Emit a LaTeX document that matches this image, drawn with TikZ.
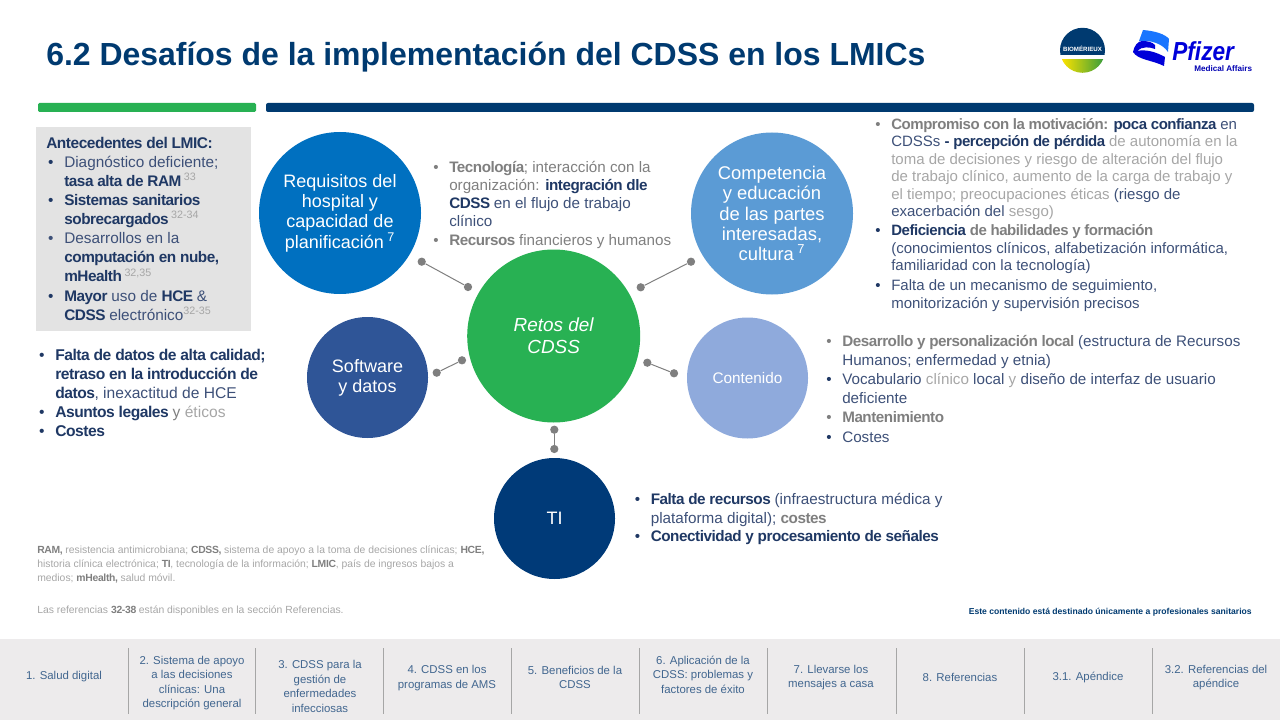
\documentclass[tikz,border=0pt]{standalone}
\usepackage{fontspec}
\setmainfont[BoldFeatures={LetterSpace=-3}]{Liberation Sans}
\newfontfamily\plainf{Liberation Sans}
\definecolor{navy}{HTML}{003A70}
\definecolor{txtd}{HTML}{1F3864}
\definecolor{txtm}{HTML}{3D5078}
\definecolor{gmid}{HTML}{7F7F7F}
\definecolor{glt}{HTML}{A6A6A6}
\definecolor{barc}{HTML}{EDEBEC}
\definecolor{boxc}{HTML}{E3E3E3}
\definecolor{green1}{HTML}{28B153}
\definecolor{nlab}{HTML}{41668F}
\definecolor{c1}{HTML}{0070C0}
\definecolor{c2}{HTML}{5B9BD5}
\definecolor{c3}{HTML}{2F5597}
\definecolor{c4}{HTML}{8FAADC}
\definecolor{c5}{HTML}{003A78}
\definecolor{by}{HTML}{FBE200}
\definecolor{bm}{HTML}{D5D41C}
\definecolor{bg}{HTML}{3C9E3A}
\newcommand\DB[1]{\textcolor{txtd}{\textbf{#1}}}
\newcommand\DR[1]{\textcolor{txtm}{#1}}
\newcommand\GB[1]{\textcolor{gmid}{\textbf{#1}}}
\newcommand\GR[1]{\textcolor{gmid}{#1}}
\newcommand\LG[1]{\textcolor{glt}{#1}}
\newcommand\blt[1]{\llap{\textcolor{#1}{•}\hspace{8pt}}}
\newcommand\sups[1]{\textcolor{glt}{\textsuperscript{#1}}}
\newcommand\fsz[2]{\fontsize{#1}{#2}\selectfont}
\tikzset{
 big/.style={circle,inner sep=0pt,minimum size=121.5pt,text=white,align=center,font=\fsz{13.5}{15.3}},
 small/.style={circle,inner sep=0pt,minimum size=90.75pt,text=white,align=center,font=\fsz{13.5}{15.2}},
 dot/.style={circle,fill=gmid,inner sep=0pt,minimum size=6.2pt},
 link/.style={draw=gmid,line width=0.75pt},
 lst/.style={anchor=north west,inner sep=0pt,align=left},
 tab/.style={anchor=center,inner sep=0pt,align=center,text=nlab,font=\fsz{8.55}{10.9}},
 sep/.style={draw=glt,line width=0.75pt},
 note/.style={anchor=north west,inner sep=0pt,align=left,text=glt,font=\fsz{7.78}{10.2}},
}
\begin{document}
\begin{tikzpicture}[x=0.75pt,y=-0.75pt]
\useasboundingbox (0,0) rectangle (1280,720);
% title
\node[anchor=base west,inner sep=0pt,text=navy,font=\plainf\bfseries\fsz{23.97}{27}] (title) at (46,65.5) {6.2 Desafíos de la implementación del CDSS en los LMICs};
% bars
\fill[green1,rounded corners=1pt] (38,103) rectangle (256,112);
\fill[navy,rounded corners=1.5pt] (266,103) rectangle (1254,112);
% bioMerieux logo
\begin{scope}
\clip (1082.5,50.3) circle (22.5);
\fill[navy] (1055,25) rectangle (1110,55);
\shade[left color=by,middle color=bm,right color=bg] (1062,60) rectangle (1103,75);
\end{scope}
\node[inner sep=0pt,text=white,font=\plainf\bfseries\fsz{4.6}{5}] (bio) at (1082.5,49) {BIOMÉRIEUX};
% Pfizer logo
\fill[blue!60!cyan!90!white] (1143,30) .. controls (1155,31) and (1165,34) .. (1169,39) -- (1168,52) .. controls (1162,43) and (1150,40) .. (1139,41) -- cycle;
\fill[blue!85!black] (1133,52) .. controls (1134,46) and (1138,41) .. (1142,41) .. controls (1148,41) and (1152,42) .. (1155,45) -- (1155,49) .. controls (1150,47) and (1142,46) .. (1137,51) .. controls (1146,49) and (1156,52) .. (1165,57) -- (1164,66) .. controls (1152,60) and (1138,60) .. (1133,52) -- cycle;
\node[anchor=base west,inner sep=0pt,text=blue!85!black,font=\plainf\bfseries\itshape\fsz{17}{20}] (pf) at (1172,61) {\scalebox{1}[1.15]{Pfizer}};
\node[anchor=base west,inner sep=0pt,text=blue!70!black,font=\plainf\bfseries\fsz{6.1}{7}] (ma) at (1194,71.5) {Medical Affairs};
% grey box
\fill[boxc] (36,127) rectangle (251,331);
\node[lst,font=\fsz{11.6}{14.3}] (ant) at (46,137) {\DB{Antecedentes del LMIC:}};
\node[lst,font=\fsz{11.5}{14.3}] (antl) at (64,156) {\blt{txtd}\DR{Diagnóstico deficiente;}\\
\DB{tasa alta de RAM}\sups{ 33}\\
\blt{txtd}\DB{Sistemas sanitarios}\\
\DB{sobrecargados}\sups{ 32-34}\\
\blt{txtm}\DR{Desarrollos en la}\\
\DB{computación en nube,}\\
\DB{mHealth}\sups{ 32,35}\\
\blt{txtd}\DB{Mayor} \DR{uso de} \DB{HCE} \DR{\&}\\
\DB{CDSS} \DR{electrónico}\sups{32-35}};
% lower left
\node[lst,font=\fsz{11.7}{14.3}] (lowl) at (55,348.5) {\blt{txtd}\DB{Falta de datos de alta calidad;}\\
\DB{retraso en la introducción de}\\
\DB{datos}\DR{, inexactitud de HCE}\\
\blt{txtd}\DB{Asuntos legales} \GR{y} \LG{éticos}\\
\blt{txtd}\DB{Costes}};
% circles
\node[big,fill=green1,minimum size=129.75pt,font=\itshape\fsz{14.2}{16.5}] (core) at (553.7,336) {Retos del\\CDSS};
\node[big,fill=c1] (hosp) at (340,213) {Requisitos del\\hospital y\\capacidad de\\planificación\textsuperscript{ 7}};
\node[big,fill=c2,font=\fsz{13.8}{15.3}] (comp) at (772,213.5) {Competencia\\y educación\\de las partes\\interesadas,\\cultura\textsuperscript{ 7}};
\node[small,fill=c3] (soft) at (367.5,377.5) {Software\\y datos};
\node[small,fill=c4,font=\fsz{11.5}{13}] (cont) at (747.5,378) {Contenido};
\node[small,fill=c5,font=\fsz{13.5}{14}] (ti) at (554.5,518.5) {TI};
% connectors
\node[dot] (d1a) at (421.7,261.7) {}; \node[dot] (d1b) at (468,287) {};
\node[dot] (d2a) at (691,261.7) {};   \node[dot] (d2b) at (640.7,287.3) {};
\node[dot] (d3a) at (462,360.3) {};   \node[dot] (d3b) at (436.7,372.7) {};
\node[dot] (d4a) at (647.3,362.7) {}; \node[dot] (d4b) at (674,373.3) {};
\node[dot] (d5a) at (554.3,429.7) {}; \node[dot] (d5b) at (554.3,449) {};
\draw[link] (d1a)--(d1b); \draw[link] (d2a)--(d2b); \draw[link] (d3a)--(d3b);
\draw[link] (d4a)--(d4b); \draw[link] (d5a)--(d5b);
% centre list
\node[lst,font=\fsz{11.4}{13.4}] (tec) at (449,161.5) {\blt{gmid}\GB{Tecnología}\GR{; interacción con la}\\
\GR{organización:} \DB{integración dle}\\
\DB{CDSS} \DR{en el flujo de trabajo}\\
\DR{clínico}\\[1pt]
\blt{gmid}\GB{Recursos} \GR{financieros y humanos}};
% right top list
\node[lst,font=\fsz{11.25}{13.1}] (mot) at (891,118) {\blt{gmid}\GB{Compromiso con la motivación:} \DB{poca confianza} \DR{en}\\
\DR{CDSSs} \DB{- percepción de pérdida} \LG{de autonomía en la}\\
\LG{toma de decisiones y riesgo de alteración del flujo}\\
\LG{de trabajo clínico, aumento de la carga de trabajo y}\\
\LG{el tiempo; preocupaciones éticas} \DR{(riesgo de}\\
\DR{exacerbación del} \LG{sesgo)}\\[1.2pt]
\blt{txtd}\DB{Deficiencia} \GB{de habilidades y formación}\\
\DR{(conocimientos clínicos, alfabetización informática,}\\
\DR{familiaridad con la tecnología)}\\[2pt]
\blt{txtd}\DR{Falta de un mecanismo de seguimiento,}\\
\DR{monitorización y supervisión precisos}};
% right middle list
\node[lst,font=\fsz{11.4}{14.35}] (des) at (842,335) {\blt{gmid}\GB{Desarrollo y personalización local} \DR{(estructura de Recursos}\\
\DR{Humanos; enfermedad y etnia)}\\
\blt{txtd}\DR{Vocabulario} \LG{clínico} \DR{local} \LG{y} \DR{diseño de interfaz de usuario}\\
\DR{deficiente}\\
\blt{gmid}\GB{Mantenimiento}\\
\blt{txtd}\DR{Costes}};
% TI list
\node[lst,font=\fsz{11.45}{14}] (falta) at (650.5,493) {\blt{txtd}\DB{Falta de recursos} \DR{(infraestructura médica y}\\
\DR{plataforma digital);} \GB{costes}\\
\blt{txtd}\DB{Conectividad y procesamiento de señales}};
% notes
\node[note] (abbr) at (37,546) {\textcolor{gmid}{\textbf{RAM,}} resistencia antimicrobiana; \textcolor{gmid}{\textbf{CDSS,}} sistema de apoyo a la toma de decisiones clínicas; \textcolor{gmid}{\textbf{HCE,}}\\
historia clínica electrónica; \textcolor{gmid}{\textbf{TI}}, tecnología de la información; \textcolor{gmid}{\textbf{LMIC}}, país de ingresos bajos a\\
medios; \textcolor{gmid}{\textbf{mHealth,}} salud móvil.};
\node[note] (refs) at (37,605.5) {Las referencias \textcolor{gmid}{\textbf{32-38}} están disponibles en la sección Referencias.};
\node[anchor=east,inner sep=0pt,text=navy,font=\plainf\bfseries\fsz{6.45}{8}] (prof) at (1252,612) {Este contenido está destinado únicamente a profesionales sanitarios};
% bottom bar
\fill[barc] (0,639) rectangle (1280,720);
\foreach \x in {128,255,383,511,639,767,896,1024,1152} \draw[sep] (\x,648) -- (\x,714);
\node[tab] (t1) at (64,677) {1. Salud digital};
\node[tab] (t2) at (192,683) {2. Sistema de apoyo\\a las decisiones\\clínicas: Una\\descripción general};
\node[tab] (t3) at (320,686.5) {3. CDSS para la\\gestión de\\enfermedades\\infecciosas};
\node[tab] (t4) at (447,678) {4. CDSS en los\\programas de AMS};
\node[tab] (t5) at (575,677.5) {5. Beneficios de la\\CDSS};
\node[tab] (t6) at (703,674.5) {6. Aplicación de la\\CDSS: problemas y\\factores de éxito};
\node[tab] (t7) at (831,677.5) {7. Llevarse los\\mensajes a casa};
\node[tab] (t8) at (960,677) {8. Referencias};
\node[tab] (t9) at (1088,677) {3.1. Apéndice};
\node[tab] (t10) at (1216,677.5) {3.2. Referencias del\\apéndice};
\end{tikzpicture}
\end{document}
